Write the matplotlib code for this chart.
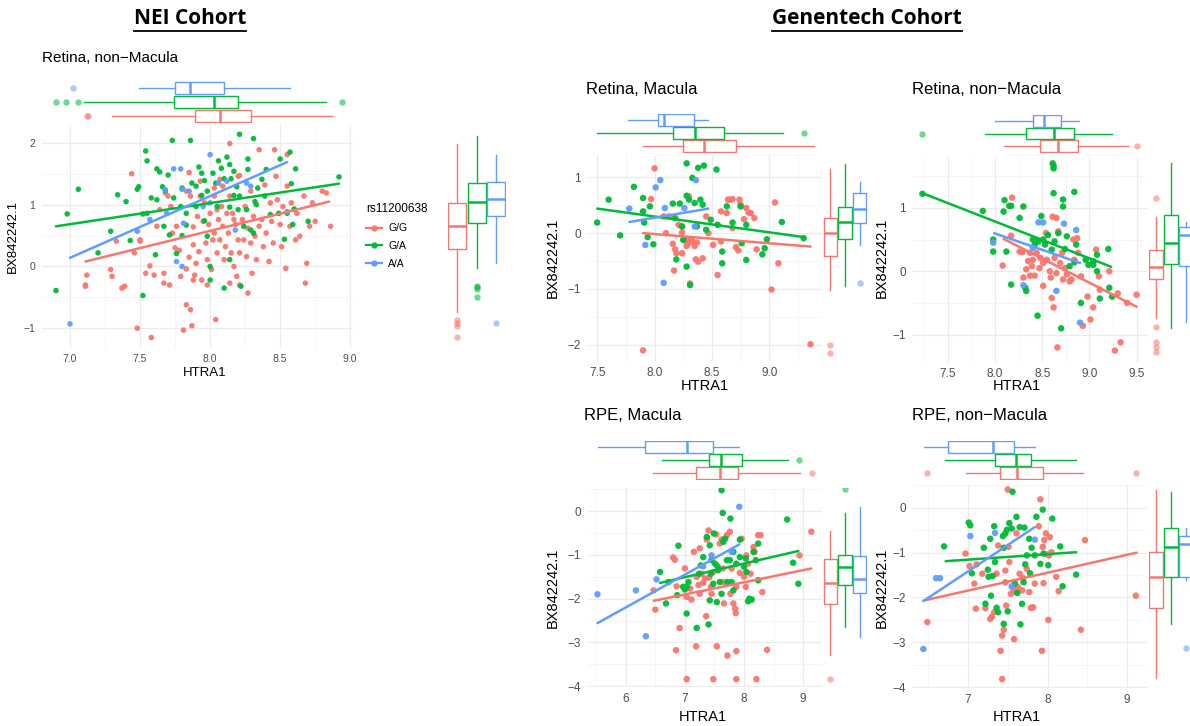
import matplotlib
matplotlib.use('Agg')
import matplotlib.pyplot as plt
from matplotlib.lines import Line2D

plt.rcParams['font.family'] = ['Liberation Sans', 'DejaVu Sans']

GROUPS = ['G/G', 'G/A', 'A/A']
COLORS = ['#F8766D', '#00BA38', '#619CFF']
LEGEND_TITLE = 'rs11200638'
XLABEL = 'HTRA1'
YLABEL = 'BX842242.1'

# ---------------- NEI cohort, Retina non-Macula ----------------
NEI_GG = [(7.12, -0.14), (7.11, -0.30), (7.11, -0.32), (7.29, -0.05), (7.30, -0.16), (7.33, 0.41), (7.37, -0.35),
          (7.39, -0.32), (7.44, 1.50), (7.46, 0.22), (7.48, -1.00), (7.50, 0.41), (7.50, 0.43), (7.54, -0.11),
          (7.57, 0.01), (7.58, -1.15), (7.60, -0.14), (7.62, 0.65), (7.64, 0.92), (7.67, -0.11), (7.67, -0.27),
          (7.68, 1.19), (7.70, 1.14), (7.71, -0.30), (7.72, 0.97), (7.73, 0.54), (7.75, 0.30), (7.76, 0.65),
          (7.78, 0.26), (7.79, -0.16), (7.81, -1.03), (7.83, -0.62), (7.83, -0.04), (7.85, 0.15), (7.85, 1.52),
          (7.86, 1.14), (7.86, -0.70), (7.87, -0.96), (7.88, 0.64), (7.88, 0.35), (7.89, -0.14), (7.90, 0.05),
          (7.91, 0.81), (7.92, 0.24), (7.93, 1.38), (7.94, -0.22), (7.95, 0.73), (7.96, 1.03), (7.97, 0.38),
          (7.98, 0.11), (7.99, 0.68), (8.00, 0.86), (8.01, -0.05), (8.02, 0.43), (8.03, 1.14), (8.03, 0.54),
          (8.04, -0.86), (8.05, 0.92), (8.05, 0.22), (8.06, 0.76), (8.07, 0.43), (8.08, 0.97), (8.09, 1.30),
          (8.09, 0.65), (8.10, 0.11), (8.11, 0.32), (8.12, 0.86), (8.13, 0.54), (8.14, 1.99), (8.14, 1.14),
          (8.15, 0.22), (8.16, 0.86), (8.17, 0.00), (8.18, 0.68), (8.19, -0.16), (8.20, 0.43), (8.20, 1.46),
          (8.21, -0.30), (8.21, 0.22), (8.23, 0.76), (8.24, 0.43), (8.25, 0.97), (8.26, 0.16), (8.27, 0.62),
          (8.29, 0.38), (8.29, 1.22), (8.30, -0.11), (8.31, 0.81), (8.32, 0.49), (8.33, 0.11), (8.35, 0.65),
          (8.35, 1.89), (8.37, 0.76), (8.38, 0.32), (8.39, 1.32), (8.40, 0.54), (8.42, 0.08), (8.43, 1.03),
          (8.44, 0.73), (8.45, 0.38), (8.46, 1.89), (8.47, 1.46), (8.48, 1.08), (8.50, 0.68), (8.51, 0.32),
          (8.52, 0.97), (8.54, -0.03), (8.55, 1.30), (8.57, 0.65), (8.58, 1.03), (8.61, 0.43), (8.62, 0.86),
          (8.64, 0.49), (8.67, 1.14), (8.68, -0.27), (8.69, 0.05), (8.71, 0.65), (8.73, 1.03), (8.75, 0.73),
          (8.80, 1.22), (8.83, 1.19), (8.86, 0.65), (8.55, 1.81), (8.21, 1.47), (7.83, 1.22), (7.93, 1.14),
          (8.03, 1.27), (8.07, 1.41), (8.17, 0.76), (8.27, -0.43), (8.14, -0.27), (7.98, -0.30), (7.88, -0.22)]
NEI_GA = [(6.90, -0.39), (6.98, 0.85), (7.06, 1.25), (7.20, 0.22), (7.29, 0.57), (7.34, 1.16), (7.40, 1.05),
          (7.43, 0.42), (7.48, 1.25), (7.49, 1.29), (7.52, 0.85), (7.54, 1.87), (7.52, -0.47), (7.55, 1.71),
          (7.58, 1.11), (7.62, 1.58), (7.64, 1.53), (7.66, 1.29), (7.68, 1.23), (7.70, 1.48), (7.73, 2.04),
          (7.67, 0.65), (7.74, 1.11), (7.76, 0.21), (7.80, 1.27), (7.80, 0.50), (7.86, 2.04), (7.83, 0.86),
          (7.87, 1.35), (7.90, 0.97), (7.92, 1.61), (7.94, 1.15), (7.96, 1.39), (7.96, 0.74), (7.98, 0.49),
          (8.00, 0.00), (8.02, 1.51), (8.04, 1.35), (8.06, 1.71), (8.05, 0.97), (8.08, 1.59), (8.10, -0.35),
          (8.10, 1.42), (8.12, 1.77), (8.14, 1.65), (8.15, 1.42), (8.17, 1.15), (8.20, 0.92), (8.21, 2.14),
          (8.22, -0.32), (8.24, 0.65), (8.27, 1.74), (8.27, 1.57), (8.31, 2.07), (8.32, 1.05), (8.33, 1.00),
          (8.34, 1.27), (8.37, 1.41), (8.40, 1.57), (8.43, 0.84), (8.49, 0.86), (8.50, 1.74), (8.55, 0.86),
          (8.57, 1.85), (8.58, 1.34), (8.59, 0.68), (8.60, 0.93), (8.53, 0.44), (8.61, 1.58), (8.70, 0.73),
          (8.92, 1.45), (8.26, 0.92), (8.29, 0.59), (8.31, 0.54), (8.14, 0.11), (8.00, -0.22), (7.83, 0.67),
          (7.79, 0.97), (7.71, 0.51), (7.61, 0.19), (7.55, 0.86), (7.62, 1.08), (8.17, 1.54), (8.19, 1.29),
          (8.21, 1.14), (7.98, 1.22), (7.90, 1.30), (7.94, 1.51), (8.14, 0.96), (8.39, 1.14)]
NEI_AA = [(7.00, -0.93), (7.48, 0.57), (7.57, 0.76), (7.68, 1.24), (7.74, 1.58), (7.79, 1.58), (7.69, 0.86),
          (7.80, 1.25), (7.76, 0.08), (7.80, 0.00), (7.85, 1.22), (8.00, 1.81), (8.00, 1.03), (7.95, 0.97),
          (8.06, 1.35), (8.12, 1.38), (8.18, 0.59), (8.26, 1.35), (8.29, 1.30), (8.55, 0.89), (7.81, 0.70)]
NEI_FIT_GG = [(7.11, 0.08), (8.85, 1.05)]
NEI_FIT_GA = [(6.90, 0.65), (8.92, 1.34)]
NEI_FIT_AA = [(7.00, 0.14), (8.55, 1.69)]
# marginal box stats: (lower whisker, q1, median, q3, upper whisker)
NEI_XBOX_GG, NEI_XOUT_GG = [7.30, 7.89, 8.07, 8.29, 8.87], [7.12, 7.13]
NEI_XBOX_GA, NEI_XOUT_GA = [7.10, 7.74, 8.03, 8.20, 8.83], [6.90, 6.97, 7.06, 8.94]
NEI_XBOX_AA, NEI_XOUT_AA = [7.49, 7.75, 7.86, 8.10, 8.57], [7.02]
NEI_YBOX_GG, NEI_YOUT_GG = [-0.73, 0.28, 0.65, 1.02, 1.98], [-0.86, -0.91, -0.97, -1.15]
NEI_YBOX_GA, NEI_YOUT_GA = [-0.03, 0.71, 1.05, 1.35, 2.12], [-0.31, -0.34, -0.37, -0.50]
NEI_YBOX_AA, NEI_YOUT_AA = [0.05, 0.81, 1.10, 1.36, 1.80], [-0.92]

# ---------------- Genentech, Retina Macula ----------------
RM_GG = [(7.90, -2.10), (7.97, 0.61), (8.00, 1.16), (8.08, 0.30), (8.10, 0.00), (8.13, 0.30), (8.16, -0.19),
         (8.17, -0.67), (8.18, -0.29), (8.19, -0.36), (8.21, 0.15), (8.24, 0.12), (8.24, 0.01), (8.27, -0.13),
         (8.28, -0.23), (8.29, -0.19), (8.30, 0.66), (8.31, -0.90), (8.32, -0.11), (8.33, -0.15), (8.35, -0.23),
         (8.36, -0.47), (8.37, -0.17), (8.38, -0.51), (8.42, -0.45), (8.47, 0.00), (8.51, -0.21), (8.55, -0.75),
         (8.58, -0.15), (8.63, 0.36), (8.64, 0.60), (8.66, 0.60), (8.68, 0.09), (8.68, 0.61), (8.71, -0.25),
         (8.73, -0.31), (8.74, 0.60), (8.75, 0.51), (8.78, 0.25), (8.80, 0.45), (8.82, 0.37), (8.84, 0.36),
         (8.87, 0.27), (8.89, -0.29), (9.02, -1.01), (9.05, 0.55), (9.08, -0.54), (9.36, -1.99), (8.24, -0.36),
         (8.45, 0.30), (8.58, 0.39)]
RM_GA = [(7.50, 0.19), (7.60, 0.60), (7.70, -0.04), (7.82, 0.83), (7.90, 0.63), (7.90, 0.39), (7.91, 0.19),
         (7.94, -0.07), (7.96, 0.48), (7.99, -0.20), (8.16, 0.53), (8.18, 0.27), (8.19, -0.47), (8.22, 0.53),
         (8.24, 0.12), (8.25, -0.12), (8.28, 1.25), (8.28, 0.67), (8.28, -0.60), (8.31, -0.93), (8.33, 0.99),
         (8.35, 0.54), (8.37, 0.12), (8.38, 1.17), (8.40, 0.60), (8.42, 0.51), (8.43, 1.21), (8.45, 0.06),
         (8.49, 0.24), (8.54, 1.14), (8.55, 0.15), (8.59, -0.33), (8.59, -0.54), (8.63, 0.48), (8.68, 0.19),
         (8.75, 0.48), (8.76, -0.18), (8.80, -0.48), (8.80, 0.15), (8.94, -0.38), (8.96, -0.27), (8.98, -0.11),
         (9.11, 0.20), (9.30, -0.09), (8.30, 0.60)]
RM_AA = [(7.78, 0.44), (7.92, -0.21), (8.01, 0.82), (8.05, 0.95), (8.08, -0.89), (8.09, 0.45), (8.26, 0.45),
         (8.35, 0.12), (8.36, 0.95)]
RM_FIT_GG = [(7.90, 0.00), (9.36, -0.24)]
RM_FIT_GA = [(7.50, 0.44), (9.30, -0.07)]
RM_FIT_AA = [(7.78, 0.20), (8.47, 0.44)]
RM_XBOX_GG, RM_XOUT_GG = [7.90, 8.25, 8.43, 8.71, 9.39], []
RM_XBOX_GA, RM_XOUT_GA = [7.50, 8.16, 8.35, 8.61, 9.12], [9.30]
RM_XBOX_AA, RM_XOUT_AA = [7.77, 8.03, 8.08, 8.34, 8.47], []
RM_YBOX_GG, RM_YOUT_GG = [-1.02, -0.41, 0.00, 0.27, 1.15], [-2.00, -2.14]
RM_YBOX_GA, RM_YOUT_GA = [-0.95, -0.11, 0.20, 0.47, 1.24], []
RM_YBOX_AA, RM_YOUT_AA = [-0.22, 0.18, 0.43, 0.72, 0.92], [-0.90]

# ---------------- Genentech, Retina non-Macula ----------------
RN_GG = [(8.08, 0.09), (8.17, 0.56), (8.18, 1.16), (8.26, 0.31), (8.29, 0.30), (8.30, -0.10), (8.33, 0.03),
         (8.35, 0.16), (8.37, -0.07), (8.39, 0.08), (8.40, 0.18), (8.42, -0.07), (8.44, 0.29), (8.47, 0.05),
         (8.48, 0.21), (8.51, 0.13), (8.54, 0.60), (8.55, 0.18), (8.58, 0.00), (8.59, -0.10), (8.60, -0.42),
         (8.61, 0.86), (8.62, -0.57), (8.63, 0.21), (8.65, 0.84), (8.65, -0.03), (8.66, -1.20), (8.67, 0.63),
         (8.69, 0.13), (8.71, 0.29), (8.72, -0.13), (8.74, 0.05), (8.76, -0.05), (8.79, -0.16), (8.81, -0.13),
         (8.83, 0.50), (8.84, 0.18), (8.87, 0.52), (8.88, 0.29), (8.91, -0.08), (8.93, -0.86), (8.98, -0.40),
         (9.01, -0.76), (9.04, -0.57), (9.07, 0.34), (9.10, -0.08), (9.11, -0.29), (9.21, 0.00), (9.27, -1.25),
         (9.30, -0.35), (9.33, -1.12), (9.50, -0.37), (9.40, -0.50), (8.51, -0.23), (8.37, 0.29)]
RN_GA = [(7.23, 1.22), (7.87, 0.95), (7.98, 0.50), (7.98, 0.31), (8.09, 0.94), (8.10, 1.12), (8.12, 0.31),
         (8.15, 1.03), (8.17, 1.03), (8.17, -0.21), (8.26, 0.84), (8.30, 1.02), (8.32, -0.26), (8.33, -0.31),
         (8.40, 0.50), (8.45, -0.70), (8.46, 0.47), (8.49, 0.87), (8.51, 0.50), (8.53, 0.42), (8.56, 0.57),
         (8.62, 1.23), (8.61, 1.70), (8.62, 1.66), (8.62, 1.62), (8.63, 0.47), (8.67, 0.60), (8.70, -0.90),
         (8.72, 1.13), (8.72, 1.02), (8.74, 0.35), (8.76, 0.55), (8.79, 0.08), (8.84, 1.25), (8.84, 0.14),
         (8.86, 0.42), (8.91, -0.50), (8.96, 0.18), (8.99, 0.10), (9.04, 0.10), (9.04, 0.16), (9.08, 0.26),
         (9.08, 0.00), (9.11, -0.43), (9.20, 0.35), (9.21, -0.26), (9.24, -0.40), (8.60, 0.34), (8.42, 0.42)]
RN_AA = [(7.98, 0.45), (8.30, -0.22), (8.40, 0.37), (8.46, 0.77), (8.51, 0.77), (8.65, -0.31), (8.73, 0.75),
         (8.86, 0.65), (8.90, -0.81)]
RN_FIT_GG = [(8.09, 0.51), (9.50, -0.56)]
RN_FIT_GA = [(7.23, 1.23), (9.23, 0.07)]
RN_FIT_AA = [(7.99, 0.60), (8.90, 0.13)]
RN_XBOX_GG, RN_XOUT_GG = [8.09, 8.48, 8.67, 8.88, 9.41], [9.50]
RN_XBOX_GA, RN_XOUT_GA = [7.89, 8.33, 8.62, 8.84, 9.24], [7.23]
RN_XBOX_AA, RN_XOUT_AA = [8.00, 8.40, 8.52, 8.70, 8.89], []
RN_YBOX_GG, RN_YOUT_GG = [-0.74, -0.13, 0.06, 0.33, 0.85], [1.16, -0.88, -1.12, -1.20, -1.28]
RN_YBOX_GA, RN_YOUT_GA = [-0.90, 0.12, 0.45, 0.88, 1.70], []
RN_YBOX_AA, RN_YOUT_AA = [-0.80, 0.08, 0.57, 0.69, 0.77], []

# ---------------- Genentech, RPE Macula ----------------
PM_GG = [(6.47, -1.81), (6.50, -2.25), (6.80, -1.06), (6.83, -1.11), (6.86, -1.72), (6.91, -2.67), (6.85, -3.18),
         (7.00, -1.31), (7.03, -1.96), (7.09, -1.77), (7.11, -2.02), (7.15, -0.93), (7.19, -3.09), (7.20, -1.50),
         (7.23, -1.69), (7.25, -1.89), (7.28, -1.43), (7.31, -1.64), (7.34, -1.54), (7.36, -2.40), (7.37, -0.65),
         (7.40, -0.44), (7.41, -1.52), (7.44, -1.73), (7.48, -1.39), (7.53, -0.53), (7.54, -3.09), (7.59, -0.74),
         (7.62, -0.65), (7.64, -1.31), (7.65, -1.62), (7.66, -2.11), (7.71, -0.55), (7.72, -3.30), (7.76, -0.47),
         (7.77, -1.89), (7.79, -1.31), (7.82, -2.11), (7.85, -2.23), (7.86, -2.33), (7.87, -3.20), (7.87, -1.73),
         (7.93, -1.41), (7.96, -0.63), (8.00, -1.50), (8.03, -1.73), (8.04, -1.01), (8.07, -1.20), (8.11, -1.43),
         (8.16, -0.82), (8.18, -0.93), (8.24, -0.55), (8.28, -0.55), (8.31, -1.85), (8.39, -3.17), (8.94, -1.01),
         (9.14, -0.47), (7.03, -3.84), (7.48, -3.84), (7.87, -3.84), (8.21, -3.84), (7.45, -1.89), (7.25, -0.85)]
PM_GA = [(6.58, -1.39), (6.68, -2.11), (6.72, -1.62), (6.87, -1.92), (6.89, -0.79), (6.97, -1.73), (7.00, -1.79),
         (7.03, -2.34), (7.03, -1.73), (7.06, -1.62), (7.20, -2.67), (7.24, -1.43), (7.27, -1.24), (7.31, -1.05),
         (7.37, -0.59), (7.40, -2.59), (7.42, -0.78), (7.42, -2.04), (7.44, -1.43), (7.45, -1.12), (7.48, -1.66),
         (7.49, -0.51), (7.51, -1.20), (7.54, -2.08), (7.55, -1.26), (7.56, -1.35), (7.59, -1.62), (7.62, -1.89),
         (7.62, 0.48), (7.64, -0.04), (7.65, -0.70), (7.68, -0.63), (7.71, -1.12), (7.72, -1.62), (7.76, -1.12),
         (7.77, -0.17), (7.79, -1.62), (7.82, -1.81), (7.87, -1.20), (7.93, -1.05), (8.00, -1.27), (8.03, -1.08),
         (8.04, -1.39), (8.07, -2.06), (8.09, -2.00), (8.13, -2.02), (8.16, -0.93), (8.20, -1.12), (8.24, -0.74),
         (8.24, -1.58), (8.73, -0.19), (8.83, -1.18), (8.92, -1.66), (7.93, -0.65), (7.82, -0.93)]
PM_AA = [(5.52, -1.90), (6.17, -1.81), (6.34, -2.86), (6.52, -1.56), (7.31, -1.26), (7.45, -1.01), (7.79, -0.93),
         (7.92, 0.10)]
PM_FIT_GG = [(6.47, -2.05), (9.14, -1.31)]
PM_FIT_GA = [(6.58, -1.64), (8.92, -0.91)]
PM_FIT_AA = [(5.52, -2.56), (7.92, -0.76)]
PM_XBOX_GG, PM_XOUT_GG = [6.46, 7.18, 7.59, 7.89, 8.94], [9.15]
PM_XBOX_GA, PM_XOUT_GA = [6.61, 7.41, 7.61, 7.97, 8.75], [8.93]
PM_XBOX_AA, PM_XOUT_AA = [5.53, 6.33, 7.04, 7.47, 7.91], []
PM_YBOX_GG, PM_YOUT_GG = [-3.29, -2.13, -1.65, -1.10, -0.46], [-3.84]
PM_YBOX_GA, PM_YOUT_GA = [-2.65, -1.69, -1.28, -1.00, -0.05], [0.50]
PM_YBOX_AA, PM_YOUT_AA = [-2.88, -1.87, -1.55, -1.03, 0.09], []

# ---------------- Genentech, RPE non-Macula ----------------
PN_GG = [(6.49, -2.55), (6.97, -1.02), (7.02, -1.30), (7.08, -1.69), (7.10, -2.25), (7.11, -1.26), (7.18, -1.47),
         (7.22, -2.24), (7.28, -2.48), (7.30, -2.43), (7.33, -2.33), (7.36, -1.47), (7.38, -0.84), (7.41, -3.19),
         (7.43, -3.82), (7.43, -2.85), (7.45, -2.72), (7.47, -1.66), (7.47, -1.40), (7.48, -2.18), (7.50, 0.41),
         (7.52, -1.21), (7.54, -1.92), (7.57, -1.81), (7.58, -2.93), (7.61, -1.88), (7.63, -1.77), (7.65, -1.47),
         (7.68, -1.84), (7.69, -1.56), (7.74, -1.36), (7.77, -1.88), (7.79, -2.23), (7.82, -2.22), (7.84, -1.69),
         (7.89, -0.41), (7.91, 0.19), (7.93, -3.19), (7.94, -0.87), (7.95, -1.68), (7.96, -0.72), (7.98, -0.57),
         (7.99, -1.04), (8.01, -2.50), (8.02, -1.06), (8.03, -0.65), (8.05, -0.99), (8.11, -1.54), (8.14, -1.86),
         (8.42, -2.72), (8.47, -0.72), (9.11, -1.96), (7.61, -0.57), (7.51, -0.87)]
PN_GA = [(6.70, -0.86), (7.01, -0.33), (7.03, -0.39), (7.05, -1.46), (7.20, -0.89), (7.22, -2.14), (7.25, -1.38),
         (7.26, -1.54), (7.28, -0.69), (7.29, -1.96), (7.31, -1.52), (7.33, -0.41), (7.34, -1.21), (7.36, -2.23),
         (7.38, -2.33), (7.44, -0.63), (7.45, -2.59), (7.45, -0.89), (7.47, -0.57), (7.49, -0.49), (7.50, -2.31),
         (7.52, -0.34), (7.55, -0.46), (7.56, 0.36), (7.59, -1.69), (7.61, -0.20), (7.62, -1.90), (7.65, -0.43),
         (7.66, -2.60), (7.68, -2.14), (7.70, -1.66), (7.71, -0.44), (7.72, -1.26), (7.74, -1.06), (7.77, -0.69),
         (7.78, -1.46), (7.80, -0.89), (7.84, -1.06), (7.86, -0.20), (7.91, -1.25), (7.94, -0.04), (8.01, -1.28),
         (8.06, -0.24), (8.16, -0.86), (8.19, -1.75), (8.36, -1.49), (7.95, -1.02)]
PN_AA = [(6.44, -3.15), (6.60, -1.57), (6.65, -1.57), (7.03, -0.63), (7.34, -0.56), (7.55, -1.75), (7.84, -0.71)]
PN_FIT_GG = [(6.44, -2.07), (9.12, -1.00)]
PN_FIT_GA = [(6.72, -1.19), (8.36, -0.99)]
PN_FIT_AA = [(6.44, -2.08), (7.84, -0.43)]
PN_XBOX_GG, PN_XOUT_GG = [6.97, 7.40, 7.62, 7.94, 8.45], [6.49, 9.11]
PN_XBOX_GA, PN_XOUT_GA = [6.71, 7.34, 7.61, 7.79, 8.36], []
PN_XBOX_AA, PN_XOUT_AA = [6.45, 6.75, 7.31, 7.58, 7.84], []
PN_YBOX_GG, PN_YOUT_GG = [-3.80, -2.24, -1.54, -0.98, 0.40], []
PN_YBOX_GA, PN_YOUT_GA = [-2.59, -1.54, -0.87, -0.45, 0.36], []
PN_YBOX_AA, PN_YOUT_AA = [-1.60, -1.54, -0.80, -0.62, -0.45], [-3.13]

# ====================== drawing ======================
W, H = 1190, 726
fig = plt.figure(figsize=(W / 100, H / 100), dpi=100)


def rect(l, t, r, b):
    return [l / W, 1 - b / H, (r - l) / W, (b - t) / H]


def bx(ax, s, out, pos, color, horizontal, width):
    st = dict(whislo=s[0], q1=s[1], med=s[2], q3=s[3], whishi=s[4], fliers=out)
    kw = dict(positions=[pos], widths=width, showcaps=False, patch_artist=True, manage_ticks=False,
              boxprops=dict(facecolor='white', edgecolor=color, linewidth=1.0),
              medianprops=dict(color=color, linewidth=1.8, solid_capstyle='butt'),
              whiskerprops=dict(color=color, linewidth=1.0),
              flierprops=dict(marker='o', markerfacecolor=color, markeredgecolor='none',
                              markersize=4.6, alpha=0.55))
    try:
        ax.bxp([st], orientation='horizontal' if horizontal else 'vertical', **kw)
    except TypeError:
        ax.bxp([st], vert=not horizontal, **kw)


def panel(main_px, top_px, right_px, xlim, ylim, xt, yt, xtl, pts, fits, xboxes, yboxes,
          right_xlim, tick_fs, lab_fs, xlab_xy, ylab_xy, ypad, xpad, msize):
    ax = fig.add_axes(rect(*main_px))
    ax.set_xticks(xt)
    ax.set_xticklabels(xtl)
    ax.set_yticks(yt)
    ax.set_yticklabels([('−%d' % -v) if v < 0 else '%d' % v for v in yt])
    dx = xt[1] - xt[0]
    dy = yt[1] - yt[0]
    ax.set_xticks([v + dx / 2 for v in [xt[0] - dx] + list(xt)], minor=True)
    ax.set_yticks([v + dy / 2 for v in [yt[0] - dy] + list(yt)], minor=True)
    ax.set_xlim(*xlim)
    ax.set_ylim(*ylim)
    ax.grid(which='major', color='#EBEBEB', linewidth=0.9)
    ax.grid(which='minor', color='#F4F4F4', linewidth=0.6)
    ax.set_axisbelow(True)
    for s in ax.spines.values():
        s.set_visible(False)
    ax.tick_params(which='both', length=0, colors='#4D4D4D', labelsize=tick_fs)
    ax.tick_params(axis='y', pad=ypad)
    ax.tick_params(axis='x', pad=xpad)
    for p, c in zip(pts, COLORS):
        ax.scatter([q[0] for q in p], [q[1] for q in p], s=msize, color=c, edgecolors='none',
                   alpha=0.95, zorder=3)
    for f, c in zip(fits, COLORS):
        ax.plot([q[0] for q in f], [q[1] for q in f], color=c, linewidth=1.8, zorder=4,
                solid_capstyle='round')
    fig.text(xlab_xy[0] / W, 1 - xlab_xy[1] / H, XLABEL, ha='center', va='center', fontsize=lab_fs)
    fig.text(ylab_xy[0] / W, 1 - ylab_xy[1] / H, YLABEL, ha='center', va='center', fontsize=lab_fs,
             rotation=90)
    # top marginal
    at = fig.add_axes(rect(*top_px))
    at.set_xlim(*xlim)
    at.set_ylim(0.5, 3.5)
    at.axis('off')
    for i, ((s, o), c) in enumerate(zip(xboxes, COLORS)):
        bx(at, s, o, i + 1, c, True, 0.9)
    # right marginal
    ar = fig.add_axes(rect(*right_px))
    ar.set_ylim(*ylim)
    ar.set_xlim(*right_xlim)
    ar.axis('off')
    for i, ((s, o), c) in enumerate(zip(yboxes, COLORS)):
        bx(ar, s, o, i + 1, c, False, 0.92)
    return ax


# NEI
panel((42, 125, 353, 348), (42, 81, 353, 123), (447.5, 125, 506, 348),
      (6.80, 9.02), (-1.32, 2.29), [7.0, 7.5, 8.0, 8.5, 9.0], [-1, 0, 1, 2],
      ['7.0', '7.5', '8.0', '8.5', '9.0'],
      [NEI_GG, NEI_GA, NEI_AA], [NEI_FIT_GG, NEI_FIT_GA, NEI_FIT_AA],
      [(NEI_XBOX_GG, NEI_XOUT_GG), (NEI_XBOX_GA, NEI_XOUT_GA), (NEI_XBOX_AA, NEI_XOUT_AA)],
      [(NEI_YBOX_GG, NEI_YOUT_GG), (NEI_YBOX_GA, NEI_YOUT_GA), (NEI_YBOX_AA, NEI_YOUT_AA)],
      (0.5, 3.5), 7.5, 9.5, (205, 373), (13, 236), 5, 4, 16)

# Retina, Macula
panel((588, 155, 822, 361), (588, 113.5, 822, 152.5), (823, 155, 867, 361),
      (7.42, 9.46), (-2.29, 1.40), [7.5, 8.0, 8.5, 9.0], [-2, -1, 0, 1],
      ['7.5', '8.0', '8.5', '9.0'],
      [RM_GG, RM_GA, RM_AA], [RM_FIT_GG, RM_FIT_GA, RM_FIT_AA],
      [(RM_XBOX_GG, RM_XOUT_GG), (RM_XBOX_GA, RM_XOUT_GA), (RM_XBOX_AA, RM_XOUT_AA)],
      [(RM_YBOX_GG, RM_YOUT_GG), (RM_YBOX_GA, RM_YOUT_GA), (RM_YBOX_AA, RM_YOUT_AA)],
      (0.5, 3.5), 8.5, 10.5, (705, 386), (553, 258), 5, 4, 22)

# Retina, non-Macula
panel((913, 157, 1147, 362), (913, 114.5, 1147, 152.5), (1148.5, 157, 1190, 362),
      (7.13, 9.61), (-1.43, 1.80), [7.5, 8.0, 8.5, 9.0, 9.5], [-1, 0, 1],
      ['7.5', '8.0', '8.5', '9.0', '9.5'],
      [RN_GG, RN_GA, RN_AA], [RN_FIT_GG, RN_FIT_GA, RN_FIT_AA],
      [(RN_XBOX_GG, RN_XOUT_GG), (RN_XBOX_GA, RN_XOUT_GA), (RN_XBOX_AA, RN_XOUT_AA)],
      [(RN_YBOX_GG, RN_YOUT_GG), (RN_YBOX_GA, RN_YOUT_GA), (RN_YBOX_AA, RN_YOUT_AA)],
      (0.5, 3.27), 8.5, 10.5, (1017, 386), (882, 258), 5, 4, 22)

# RPE, Macula
panel((588, 488, 822, 687), (588, 440.5, 822, 479.5), (823, 488, 867, 687),
      (5.36, 9.32), (-4.02, 0.53), [6, 7, 8, 9], [-4, -3, -2, -1, 0],
      ['6', '7', '8', '9'],
      [PM_GG, PM_GA, PM_AA], [PM_FIT_GG, PM_FIT_GA, PM_FIT_AA],
      [(PM_XBOX_GG, PM_XOUT_GG), (PM_XBOX_GA, PM_XOUT_GA), (PM_XBOX_AA, PM_XOUT_AA)],
      [(PM_YBOX_GG, PM_YOUT_GG), (PM_YBOX_GA, PM_YOUT_GA), (PM_YBOX_AA, PM_YOUT_AA)],
      (0.5, 3.5), 8.5, 10.5, (703, 717), (553, 588), 5, 4, 22)

# RPE, non-Macula
panel((913, 485, 1147, 688), (913, 440.5, 1147, 479.5), (1148.5, 485, 1190, 688),
      (6.31, 9.25), (-4.02, 0.51), [7, 8, 9], [-4, -3, -2, -1, 0],
      ['7', '8', '9'],
      [PN_GG, PN_GA, PN_AA], [PN_FIT_GG, PN_FIT_GA, PN_FIT_AA],
      [(PN_XBOX_GG, PN_XOUT_GG), (PN_XBOX_GA, PN_XOUT_GA), (PN_XBOX_AA, PN_XOUT_AA)],
      [(PN_YBOX_GG, PN_YOUT_GG), (PN_YBOX_GA, PN_YOUT_GA), (PN_YBOX_AA, PN_YOUT_AA)],
      (0.5, 3.27), 8.5, 10.5, (1017, 717), (882, 588), 5, 4, 22)

# panel titles
for txt, x, y, fs in [('Retina, non−Macula', 42, 58, 11), ('Retina, Macula', 586, 89, 12),
                      ('Retina, non−Macula', 912, 89, 12), ('RPE, Macula', 584, 416, 12),
                      ('RPE, non−Macula', 912, 416, 12)]:
    fig.text(x / W, 1 - y / H, txt, ha='left', va='center', fontsize=fs)

# cohort headers (bold, underlined)
heads = []
for txt, x in [('NEI Cohort', 190), ('Genentech Cohort', 867)]:
    heads.append(fig.text(x / W, 1 - 19 / H, txt, ha='center', va='center', fontsize=15,
                          fontweight='bold', family=['Open Sans', 'DejaVu Sans']))
fig.canvas.draw()
rend = fig.canvas.get_renderer()
for t in heads:
    bb = t.get_window_extent(rend)
    yb = bb.y0 - 1.5
    fig.add_artist(Line2D([bb.x0 / W, bb.x1 / W], [yb / H, yb / H], color='black', linewidth=1.3,
                          transform=fig.transFigure))

# legend
handles = [Line2D([0], [0], color=c, marker='o', markersize=3.5, linewidth=1.6) for c in COLORS]
leg = fig.legend(handles, GROUPS, loc='upper left', bbox_to_anchor=(357 / W, 1 - 194 / H),
                 frameon=False, title=LEGEND_TITLE, fontsize=7.5, title_fontsize=8.5,
                 handlelength=1.5, labelspacing=0.75, handletextpad=0.6, alignment='left')

fig.savefig('out.png', dpi=100, facecolor='white')
